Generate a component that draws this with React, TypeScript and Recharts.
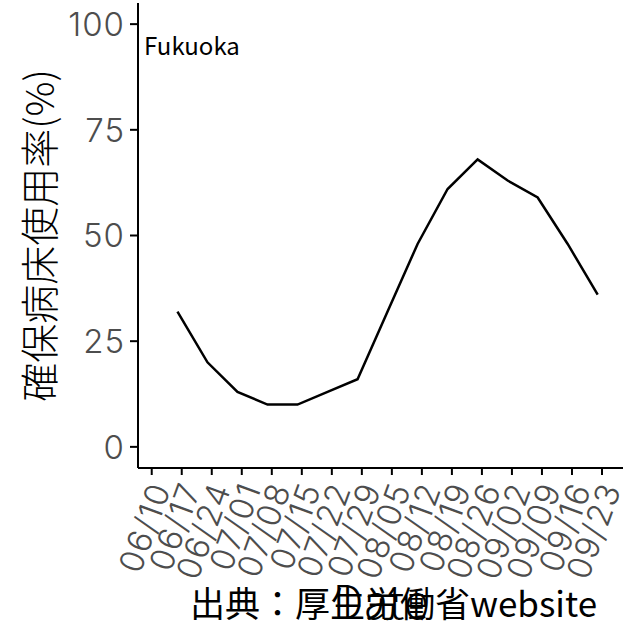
import React from 'react';
import { LineChart, Line, XAxis, YAxis } from 'recharts';

// weekly tick labels on the x axis
const tickLabels = [
  '06/10', '06/17', '06/24', '07/01', '07/08', '07/15', '07/22', '07/29',
  '08/05', '08/12', '08/19', '08/26', '09/02', '09/09', '09/16', '09/23',
];

// observation dates and bed usage (%) for Fukuoka
const dates = [
  '06/16', '06/23', '06/30', '07/07', '07/14', '07/21', '07/28', '08/04',
  '08/11', '08/18', '08/25', '09/01', '09/08', '09/15', '09/22',
];
const usage = [32, 20, 13, 10, 10, 13, 16, 32, 48, 61, 68, 63, 59, 48, 36];

const yTicks = [0, 25, 50, 75, 100];

const FONT = '"Noto Sans CJK JP", "Noto Sans", sans-serif';
const TICK_FONT = 'Inter, "DejaVu Sans", sans-serif';

// days since the first tick label
const toDay = (s: string) => {
  const [m, d] = s.split('/').map(Number);
  return (Date.UTC(2021, m - 1, d) - Date.UTC(2021, 5, 10)) / 86400000;
};

const tickDays = tickLabels.map(toDay);
const data = dates.map((d, i) => ({ day: toDay(d), value: usage[i] }));

const XTick = (props: any) => {
  const { x, y, payload } = props;
  const idx = tickDays.indexOf(payload.value);
  const ax = x + 9;
  const ay = y + 5;
  return (
    <text
      x={ax}
      y={ay}
      dy="0.35em"
      transform={`rotate(-70, ${ax}, ${ay})`}
      textAnchor="end"
      fill="#4d4d4d"
      fontSize={33}
      fontWeight={300}
      letterSpacing={1.5}
      fontFamily={TICK_FONT}
    >
      {idx >= 0 ? tickLabels[idx] : ''}
    </text>
  );
};

export default function App() {
  return (
    <div style={{ position: 'absolute', left: 0, top: 0, width: 626, height: 623, background: '#fff' }}>
      <LineChart
        width={626}
        height={623}
        data={data}
        margin={{ top: 3, right: 3, left: 0, bottom: 0 }}
      >
        <XAxis
          type="number"
          dataKey="day"
          domain={[-3.2, 109.9]}
          ticks={tickDays}
          interval={0}
          allowDataOverflow
          height={155}
          tickSize={7}
          tickMargin={4}
          stroke="#000"
          strokeWidth={2}
          tick={<XTick />}
          label={{
            value: 'Date',
            position: 'insideBottom',
            offset: 4,
            fontSize: 46,
            fontWeight: 300,
            fill: '#000',
            fontFamily: FONT,
          }}
        />
        <YAxis
          type="number"
          domain={[-5, 105]}
          ticks={yTicks}
          interval={0}
          width={138}
          tickSize={8}
          tickMargin={5}
          stroke="#000"
          strokeWidth={2}
          tick={{ fill: '#4d4d4d', fontSize: 33, fontWeight: 300, fontFamily: TICK_FONT, letterSpacing: 1 }}
          label={{
            value: '確保病床使用率(%)',
            angle: -90,
            position: 'insideLeft',
            offset: 40,
            fontSize: 39,
            fontWeight: 300,
            fill: '#000',
            fontFamily: FONT,
            style: { textAnchor: 'middle' },
          }}
        />
        <Line
          type="linear"
          dataKey="value"
          stroke="#000"
          strokeWidth={2.5}
          dot={false}
          isAnimationActive={false}
        />
      </LineChart>
      <svg
        width={626}
        height={623}
        style={{ position: 'absolute', left: 0, top: 0, pointerEvents: 'none' }}
      >
        <text x={144} y={55} fontSize={24} fontFamily={FONT} fill="#000">
          Fukuoka
        </text>
        <text x={190} y={617} fontSize={35} fontFamily={FONT} fill="#000">
          出典：厚生労働省website
        </text>
      </svg>
    </div>
  );
}
